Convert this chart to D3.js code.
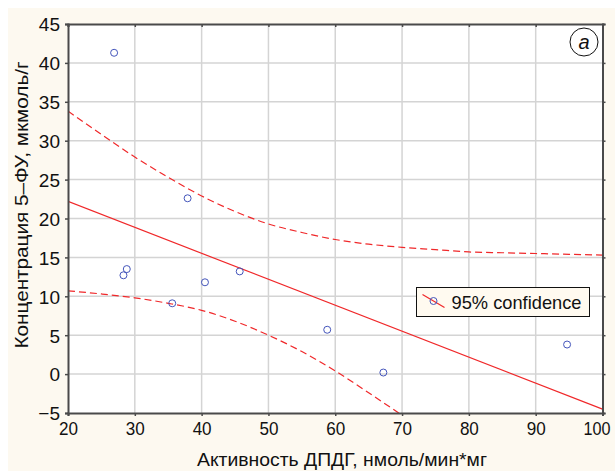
<!DOCTYPE html>
<meta charset="utf-8">
<style>
body { margin: 0; background: #fff; }
svg text { font-family: "Liberation Sans", Arial, sans-serif; fill: #111; }
.grid line { stroke: #d4d4d4; stroke-width: 1.5px; }
.band { fill: none; stroke: #f0282a; stroke-width: 1.2px; stroke-dasharray: 7,4; }
.fit { fill: none; stroke: #f0282a; stroke-width: 1.2px; }
.dot { fill: none; stroke: #4455bb; stroke-width: 1px; }
</style>
<body>
<script src="https://d3js.org/d3.v7.min.js"></script>
<script>

// measured points (activity, concentration)
var actX = [26.9, 37.9, 28.8, 28.3, 40.5, 45.7, 35.6, 58.8, 67.2, 94.7];
var concY = [41.3, 22.6, 13.5, 12.7, 11.8, 13.2, 9.1, 5.7, 0.2, 3.8];

// regression line end points
var fitX = [20, 100];
var fitY = [22.2, -4.5];

// 95% confidence band
var bandX = [20, 25, 30, 35, 40, 45, 50, 55, 60, 65, 70, 75, 80, 85, 90, 95, 100];
var bandUp = [33.8, 30.8, 27.9, 25.3, 22.9, 20.9, 19.3, 18.2, 17.3, 16.7, 16.3, 16.0, 15.7, 15.6, 15.5, 15.4, 15.3];
var bandLo = [10.7, 10.3, 9.8, 9.1, 8.2, 6.8, 5.0, 2.9, 0.4, -2.4, -5.3, null, null, null, null, null, null];

var xTicks = [20, 30, 40, 50, 60, 70, 80, 90, 100];
var yTicks = [-5, 0, 5, 10, 15, 20, 25, 30, 35, 40, 45];

var W = 615, H = 471;
var margin = {top: 24, right: 12.5, bottom: 58, left: 68},
    width = W - margin.left - margin.right,
    height = H - margin.top - margin.bottom;

var svg = d3.select("body").append("svg")
    .attr("width", W)
    .attr("height", H);

// cream page background
svg.append("rect")
    .attr("x", 8).attr("y", 8)
    .attr("width", W - 8).attr("height", H - 8)
    .attr("fill", "#fdf9f0");

var g = svg.append("g")
    .attr("transform", "translate(" + margin.left + "," + margin.top + ")");

var x = d3.scaleLinear().domain([20, 100]).range([0, width]);
var y = d3.scaleLinear().domain([-5, 45]).range([height, 0]);

g.append("rect")
    .attr("width", width).attr("height", height)
    .attr("fill", "#fff");

g.append("clipPath").attr("id", "clip")
  .append("rect").attr("width", width).attr("height", height);

// grid
g.append("g").attr("class", "grid")
  .selectAll("line").data(xTicks.slice(1, -1)).enter().append("line")
    .attr("x1", function(d) { return x(d); }).attr("x2", function(d) { return x(d); })
    .attr("y1", 0).attr("y2", height);
g.append("g").attr("class", "grid")
  .selectAll("line").data(yTicks.slice(1, -1)).enter().append("line")
    .attr("y1", function(d) { return y(d); }).attr("y2", function(d) { return y(d); })
    .attr("x1", 0).attr("x2", width);

var plot = g.append("g").attr("clip-path", "url(#clip)");

var band = d3.line()
    .defined(function(d) { return d[1] != null; })
    .curve(d3.curveMonotoneX)
    .x(function(d) { return x(d[0]); })
    .y(function(d) { return y(d[1]); });

plot.append("path").attr("class", "band")
    .attr("d", band(bandX.map(function(v, i) { return [v, bandUp[i]]; })));
plot.append("path").attr("class", "band")
    .attr("d", band(bandX.map(function(v, i) { return [v, bandLo[i]]; })));

plot.append("path").attr("class", "fit")
    .attr("d", d3.line()
      .x(function(d) { return x(d[0]); })
      .y(function(d) { return y(d[1]); })(fitX.map(function(v, i) { return [v, fitY[i]]; })));

plot.selectAll(".dot").data(actX).enter().append("circle")
    .attr("class", "dot")
    .attr("cx", function(d) { return x(d); })
    .attr("cy", function(d, i) { return y(concY[i]); })
    .attr("r", 3.5);

// axes
var xAxis = g.append("g")
    .attr("transform", "translate(0," + height + ")")
    .call(d3.axisBottom(x).tickValues(xTicks).tickSize(3).tickPadding(6));
var yAxis = g.append("g")
    .call(d3.axisLeft(y).tickValues(yTicks).tickSize(3).tickPadding(5));
var xTop = g.append("g")
    .call(d3.axisBottom(x).tickValues(xTicks).tickSize(3).tickFormat(""));
var yRight = g.append("g")
    .attr("transform", "translate(" + width + ",0)")
    .call(d3.axisRight(y).tickValues(yTicks).tickSize(3).tickFormat(""));

[xAxis, yAxis, xTop, yRight].forEach(function(a) {
  a.select(".domain").attr("stroke", "#4a4a4a").attr("stroke-width", 2);
  a.selectAll(".tick line").attr("stroke", "#4a4a4a").attr("stroke-width", 1.5);
  a.selectAll("text").style("font-size", "19px").attr("fill", "#111");
});
yAxis.selectAll("text").attr("dy", "0.36em");
// narrower digits like the original condensed face
xAxis.selectAll("text").attr("textLength", function(d) { return d >= 100 ? 27 : 19; })
    .attr("lengthAdjust", "spacingAndGlyphs");
xAxis.selectAll(".tick").filter(function(d) { return d >= 100; })
    .select("text").attr("x", -6);

// axis titles
svg.append("text")
    .attr("x", 342).attr("y", 466)
    .attr("text-anchor", "middle")
    .attr("textLength", 290).attr("lengthAdjust", "spacingAndGlyphs")
    .style("font-size", "19px")
    .text("Активность ДПДГ, нмоль/мин*мг");

svg.append("text")
    .attr("transform", "translate(28," + 205 + ") rotate(-90)")
    .attr("text-anchor", "middle")
    .attr("textLength", 287).attr("lengthAdjust", "spacingAndGlyphs")
    .style("font-size", "19px")
    .text("Концентрация 5–ФУ, мкмоль/г");

// legend
var leg = g.append("g").attr("transform", "translate(" + (416.5 - margin.left) + "," + (287.5 - margin.top) + ")");
leg.append("rect").attr("width", 173).attr("height", 29)
    .attr("fill", "#fffaf0").attr("stroke", "#111").attr("stroke-width", 1);
leg.append("line").attr("x1", 6).attr("y1", 7).attr("x2", 28).attr("y2", 20)
    .attr("stroke", "#f0282a").attr("stroke-width", 1.2);
leg.append("circle").attr("cx", 17).attr("cy", 13.5).attr("r", 3.5).attr("class", "dot");
leg.append("text").attr("x", 35).attr("y", 21.5)
    .attr("textLength", 130).attr("lengthAdjust", "spacingAndGlyphs")
    .style("font-size", "19px").text("95% confidence");

// panel mark
var mark = svg.append("g").attr("transform", "translate(584,42)");
mark.append("circle").attr("r", 14).attr("fill", "#fff").attr("stroke", "#111").attr("stroke-width", 1);
mark.append("text").attr("text-anchor", "middle").attr("dy", "0.35em")
    .style("font-size", "20px").style("font-style", "italic").text("a");

</script>
</body>
